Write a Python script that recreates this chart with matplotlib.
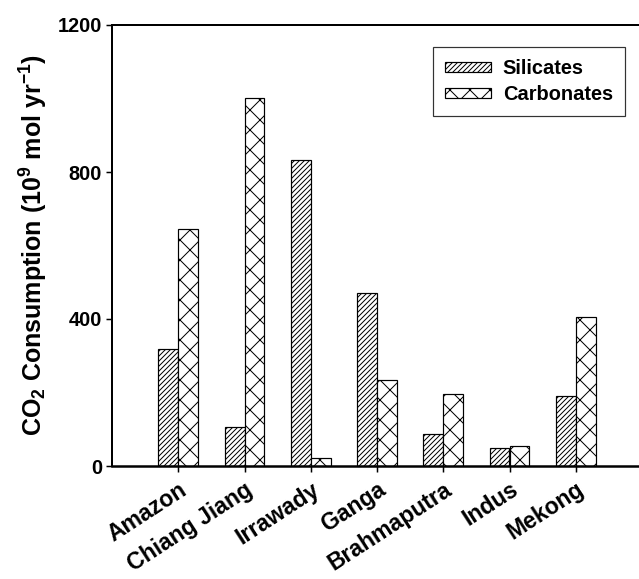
import numpy as np
import matplotlib
matplotlib.use('Agg')
import matplotlib.pyplot as plt

# CO2 consumption by river, 10^9 mol/yr
rivers = ['Amazon', 'Chiang Jiang', 'Irrawady', 'Ganga', 'Brahmaputra', 'Indus', 'Mekong']
silicates = [318, 105, 832, 470, 87, 50, 190]
carbonates = [644, 1000, 22, 234, 196, 55, 405]

# low dpi so that the hatch spacing comes out like the print
DPI = 60
pt = 72.0 / DPI   # points per pixel

plt.rcParams['font.family'] = ['Liberation Sans', 'DejaVu Sans']
plt.rcParams['font.weight'] = 'bold'
plt.rcParams['hatch.linewidth'] = 1.0 * pt
plt.rcParams['mathtext.fontset'] = 'custom'
plt.rcParams['mathtext.rm'] = 'Liberation Sans:bold'
plt.rcParams['mathtext.bf'] = 'Liberation Sans:bold'
plt.rcParams['mathtext.default'] = 'bf'

fig = plt.figure(figsize=(639 / DPI, 579 / DPI), dpi=DPI)
ax = fig.add_axes([112 / 639, 1 - 466 / 579, 530 / 639, 441 / 579])

x = np.arange(1, len(rivers) + 1)
w = 0.3
ax.bar(x - w / 2, silicates, w, color='white', edgecolor='black',
       linewidth=1.2 * pt, hatch='////', label='Silicates')
ax.bar(x + w / 2, carbonates, w, color='white', edgecolor='black',
       linewidth=1.2 * pt, hatch='x', label='Carbonates')

ax.set_xlim(0, 8)
ax.set_ylim(0, 1200)
ax.set_yticks([0, 400, 800, 1200])
ax.set_xticks(x)
ax.set_xticklabels(rivers, rotation=33, ha='right', rotation_mode='anchor',
                   fontsize=23 * pt, fontweight='bold')
ax.tick_params(axis='y', labelsize=20 * pt, length=6 * pt, width=1.5 * pt, pad=4 * pt)
ax.tick_params(axis='x', length=6 * pt, width=1.5 * pt, pad=6 * pt)
for lab in ax.get_yticklabels():
    lab.set_fontweight('bold')

for side in ['left', 'top']:
    ax.spines[side].set_linewidth(2 * pt)
ax.spines['bottom'].set_linewidth(2.5 * pt)
ax.spines['right'].set_visible(False)

ax.set_ylabel(r'CO$_2$ Consumption (10$^9$ mol yr$^{-1}$)', fontsize=25 * pt,
              fontweight='bold', labelpad=8 * pt)

leg = ax.legend(loc='upper right', bbox_to_anchor=(513 / 530, 1 - 22 / 441),
                borderaxespad=0, fontsize=20 * pt, frameon=True, fancybox=False,
                edgecolor='black', handlelength=2.3, handleheight=0.4,
                handletextpad=0.6, borderpad=0.6, labelspacing=0.35)
leg.get_frame().set_linewidth(1.2 * pt)

fig.savefig('out.png', dpi=DPI)
